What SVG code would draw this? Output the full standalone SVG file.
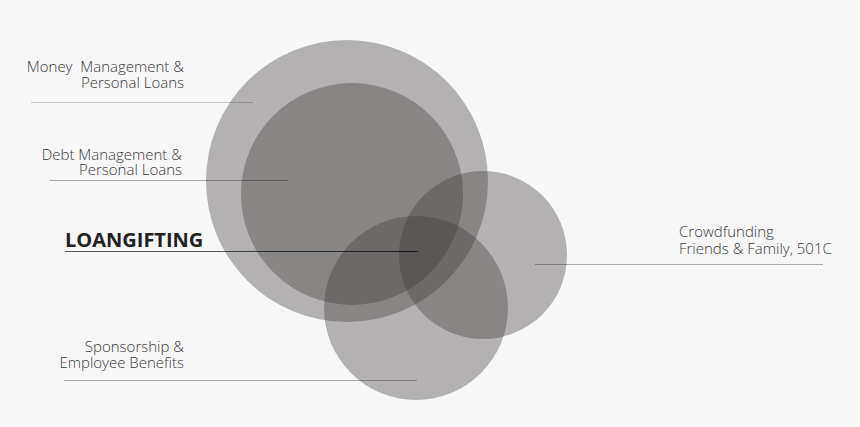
<svg xmlns="http://www.w3.org/2000/svg" width="860" height="427" viewBox="0 0 860 427">
<style>
.c{fill:#3f3a3a;fill-opacity:0.37}
.t{font-family:"Open Sans","Noto Sans",sans-serif;font-weight:300;font-size:15px;fill:#3a3a3a;white-space:pre}
.r{text-anchor:end}
.b{font-family:"Open Sans","Noto Sans",sans-serif;font-weight:700;font-size:20px;fill:#222}
.l{stroke:#000;stroke-opacity:0.2;stroke-width:1;fill:none}
</style>
<rect width="860" height="427" fill="#f7f7f7"/>
<g id="circles">
<circle id="circle-outer" class="c" cx="347" cy="181" r="141"/>
<circle id="circle-inner" class="c" cx="352" cy="194" r="111"/>
<circle id="circle-right" class="c" cx="483" cy="255" r="84"/>
<circle id="circle-bottom" class="c" cx="416" cy="308" r="92"/>
</g>
<g id="connectors">
<line class="l" x1="31" y1="102.5" x2="253" y2="102.5"/>
<line class="l" x1="50" y1="180.5" x2="288" y2="180.5" style="stroke-opacity:0.3"/>
<line class="l" x1="65" y1="251.5" x2="418" y2="251.5" style="stroke-opacity:0.65"/>
<line class="l" x1="64" y1="380.5" x2="417" y2="380.5" style="stroke-opacity:0.3"/>
<line class="l" x1="535" y1="264.5" x2="823" y2="264.5" style="stroke-opacity:0.3"/>
</g>
<g id="node-money">
<text class="t r" xml:space="preserve"><tspan x="184" y="72">Money  Management &amp;</tspan><tspan x="184" y="88">Personal Loans</tspan></text>
</g>
<g id="node-debt">
<text class="t r"><tspan x="182" y="160">Debt Management &amp;</tspan><tspan x="182" y="175">Personal Loans</tspan></text>
</g>
<g id="node-loangifting">
<text class="b" x="65" y="247">LOANGIFTING</text>
</g>
<g id="node-sponsorship">
<text class="t r"><tspan x="184" y="352">Sponsorship &amp;</tspan><tspan x="184" y="368">Employee Benefits</tspan></text>
</g>
<g id="node-crowdfunding">
<text class="t"><tspan x="679" y="237">Crowdfunding</tspan><tspan x="679" y="254">Friends &amp; Family, 501C</tspan></text>
</g>
</svg>
